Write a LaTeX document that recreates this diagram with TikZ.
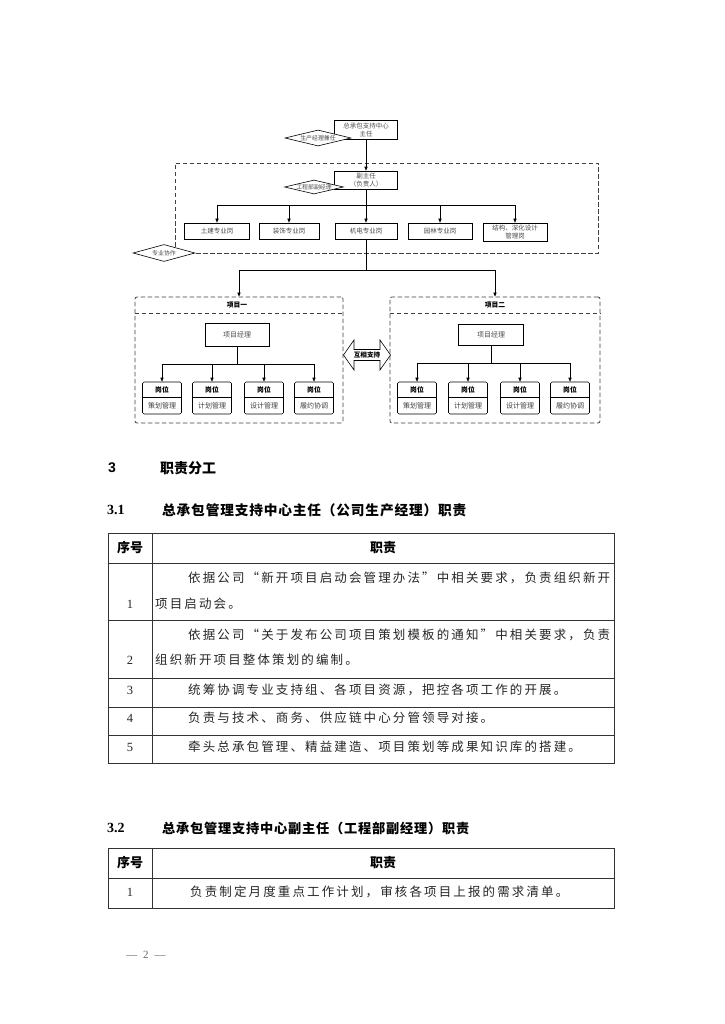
\documentclass[tikz,border=0pt]{standalone}
\usepackage{fontspec}
\setmainfont{Liberation Serif}
\newfontfamily\sansf{Liberation Sans}
\newfontfamily\cjk{Noto Sans CJK SC}
\newfontfamily\cjkbody{Noto Sans CJK SC}[LetterSpace=17]
\newfontfamily\cjkhead{Noto Sans CJK SC}[LetterSpace=6]
\usetikzlibrary{arrows.meta,shapes.geometric,shapes.arrows}
\begin{document}
\begin{tikzpicture}[x=1pt,y=-1pt,
  box/.style={draw, line width=0.6pt, fill=white, inner sep=0pt, font=\cjk\fontsize{6.5}{8}\selectfont, align=center, text=black!70},
  dia/.style={draw, line width=0.6pt, fill=white, shape=diamond, shape aspect=4.3, inner sep=0pt, font=\cjk\fontsize{5.9}{7}\selectfont, text=black!70},
  arr/.style={-{Triangle[length=4pt,width=3.2pt]}, line width=0.6pt},
  ln/.style={line width=0.6pt},
  dsh/.style={draw=black!75, dash pattern=on 4.5pt off 2.5pt, line width=0.8pt},
  proj/.style={dsh, rounded corners=2pt, inner sep=0pt},
  post/.style={draw, rounded corners=1.5pt, line width=0.6pt, minimum width=39pt, minimum height=32pt, inner sep=0pt},
  ptxt/.style={font=\cjk\fontsize{7}{8}\selectfont, text=black!75, inner sep=0pt},
  ptitle/.style={font=\cjk\bfseries\fontsize{6.8}{8}\selectfont, inner sep=0pt},
  body/.style={anchor=west, inner sep=0pt, font=\cjkbody\fontsize{12.5}{14}\selectfont, text=black!85},
  num/.style={inner sep=0pt, font=\fontsize{12.5}{14}\selectfont, text=black!85},
  thead/.style={inner sep=0pt, font=\cjk\bfseries\fontsize{13}{15}\selectfont},
  tline/.style={line width=0.8pt, draw=black!80},
]
\useasboundingbox[fill=white] (0,0) rectangle (724,1024);

% ---------- top part ----------
\node[box, minimum width=63pt, minimum height=19pt] (zr) at (366,130) {总承包支持中心\\主任};
\node[dia, minimum width=66pt, minimum height=16pt] (d1) at (318,138) {生产经理兼任};

\node[dsh, minimum width=423pt, minimum height=90pt, inner sep=0pt] (grp) at (386.5,208) {};

\node[box, minimum width=63pt, minimum height=18pt] (fzr) at (366,180) {副主任\\（负责人）};
\node[dia, minimum width=58pt, minimum height=14pt] (d2) at (314,187) {工程部副经理};

\node[box, minimum width=65pt, minimum height=16pt] (b1) at (217,231) {土建专业岗};
\node[box, minimum width=60pt, minimum height=16pt] (b2) at (289,231) {装饰专业岗};
\node[box, minimum width=62pt, minimum height=16pt] (b3) at (366,231) {机电专业岗};
\node[box, minimum width=64pt, minimum height=16pt] (b4) at (440,231) {园林专业岗};
\node[box, minimum width=64pt, minimum height=18pt] (b5) at (515,232) {结构、深化设计\\管理岗};

\node[dia, minimum width=62pt, minimum height=17pt] (d3) at (164,253) {专业协作};

\draw[arr] (zr.south) -- (fzr.north);
\coordinate (h1) at (366,205);
\draw[ln] (fzr.south) -- (h1);
\draw[ln] (b1.north |- h1) -- (b5.north |- h1);
\foreach \b in {b1,b2,b4,b5} \draw[arr] (\b.north |- h1) -- (\b.north);
\draw[arr] (h1) -- (b3.north);

% ---------- projects ----------
\node[proj, minimum width=208pt, minimum height=126pt] (p1) at (239,360) {};
\node[proj, minimum width=210pt, minimum height=126pt] (p2) at (495,360) {};
\draw[dsh] (p1.west |- 0,313) -- (p1.east |- 0,313);
\draw[dsh] (p2.west |- 0,313) -- (p2.east |- 0,313);
\node[ptitle] (t1) at (237,305) {项目一};
\node[ptitle] (t2) at (495,305) {项目二};

\coordinate (h2) at (366,270);
\draw[ln] (b3.south) -- (h2);
\draw[ln] (p1.north |- h2) -- (p2.north |- h2);
\draw[arr] (p1.north |- h2) -- (p1.north);
\draw[arr] (p2.north |- h2) -- (p2.north);

\node[box, minimum width=64pt, minimum height=23pt, font=\cjk\fontsize{7}{8}\selectfont] (pm1) at (237,335) {项目经理};
\node[box, minimum width=65pt, minimum height=21pt, font=\cjk\fontsize{7}{8}\selectfont] (pm2) at (491,335) {项目经理};

% posts project 1
\foreach \i/\x/\t in {1/162/策划管理,2/212/计划管理,3/264/设计管理,4/314/履约协调}{
  \node[post] (qa\i) at (\x,398) {};
  \draw[ln] (qa\i.west |- 0,397) -- (qa\i.east |- 0,397);
  \node[ptitle] at (\x,389.5) {岗位};
  \node[ptxt] at (\x,405.5) {\t};
}
\foreach \i/\x/\t in {1/417/策划管理,2/468/计划管理,3/520/设计管理,4/570/履约协调}{
  \node[post] (qb\i) at (\x,398) {};
  \draw[ln] (qb\i.west |- 0,397) -- (qb\i.east |- 0,397);
  \node[ptitle] at (\x,389.5) {岗位};
  \node[ptxt] at (\x,405.5) {\t};
}
\coordinate (h3) at (237,364);
\draw[ln] (pm1.south) -- (h3);
\draw[ln] (qa1.north |- h3) -- (qa4.north |- h3);
\foreach \i in {1,2,3,4} \draw[arr] (qa\i.north |- h3) -- (qa\i.north);
\coordinate (h4) at (491,363);
\draw[ln] (pm2.south) -- (h4);
\draw[ln] (qb1.north |- h4) -- (qb4.north |- h4);
\foreach \i in {1,2,3,4} \draw[arr] (qb\i.north |- h4) -- (qb\i.north);

\node[double arrow, draw, line width=0.6pt, fill=white, minimum height=47pt, minimum width=30pt,
      double arrow head extend=8.5pt, double arrow tip angle=110, inner sep=1.5pt,
      font=\cjk\bfseries\fontsize{6.6}{7.5}\selectfont] (hx) at (367,355) {互相支持};

% ---------- text section ----------
\node[anchor=west, inner sep=0pt, font=\sansf\bfseries\fontsize{14}{16}\selectfont] (s3) at (108,468) {3};
\node[anchor=west, inner sep=0pt, font=\cjk\bfseries\fontsize{14}{16}\selectfont] (s3t) at (160,468) {职责分工};

\node[anchor=west, inner sep=0pt, font=\bfseries\fontsize{14}{16}\selectfont] (s31) at (107,510) {3.1};
\node[anchor=west, inner sep=0pt, font=\cjkhead\bfseries\fontsize{13.7}{16}\selectfont] (s31t) at (162,510) {总承包管理支持中心主任（公司生产经理）职责};

% table 1
\draw[tline] (108,533) rectangle (614,763);
\draw[tline] (152,533) -- (152,763);
\foreach \y in {563,620,678,707,735} \draw[tline] (108,\y) -- (614,\y);
\node[thead] at (130,548) {序号};
\node[thead] at (383,548) {职责};
\node[num] at (130,604) {1};
\node[body] at (188,578) {依据公司“新开项目启动会管理办法”中相关要求，负责组织新开};
\node[body] at (155,604) {项目启动会。};
\node[num] at (130,660) {2};
\node[body] at (188,635) {依据公司“关于发布公司项目策划模板的通知”中相关要求，负责};
\node[body] at (155,660) {组织新开项目整体策划的编制。};
\node[num] at (130,690) {3};
\node[body] at (188,690) {统筹协调专业支持组、各项目资源，把控各项工作的开展。};
\node[num] at (130,718) {4};
\node[body] at (188,718) {负责与技术、商务、供应链中心分管领导对接。};
\node[num] at (130,747) {5};
\node[body] at (188,747) {牵头总承包管理、精益建造、项目策划等成果知识库的搭建。};

% section 3.2
\node[anchor=west, inner sep=0pt, font=\bfseries\fontsize{14}{16}\selectfont] (s32) at (107,828) {3.2};
\node[anchor=west, inner sep=0pt, font=\cjkhead\bfseries\fontsize{13.2}{16}\selectfont] (s32t) at (162,828) {总承包管理支持中心副主任（工程部副经理）职责};

\draw[tline] (108,848) rectangle (614,908);
\draw[tline] (152,848) -- (152,908);
\draw[tline] (108,878) -- (614,878);
\node[thead] at (130,863) {序号};
\node[thead] at (383,863) {职责};
\node[num] at (130,892) {1};
\node[body] at (190,892) {负责制定月度重点工作计划，审核各项目上报的需求清单。};

\node[inner sep=0pt, font=\fontsize{11}{12}\selectfont, text=black!60] (pg) at (146,955) {—\hspace{6pt}2\hspace{6pt}—};
\end{tikzpicture}
\end{document}
